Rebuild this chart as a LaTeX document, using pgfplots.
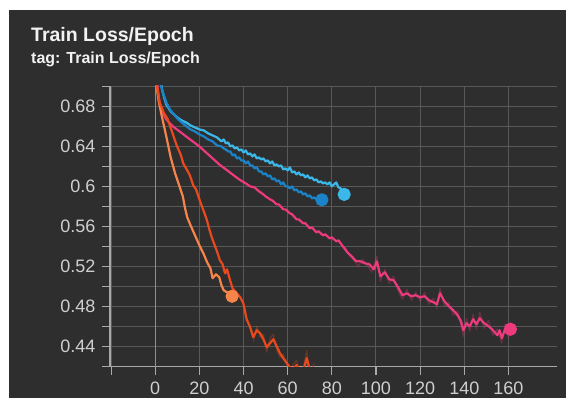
\documentclass[border=0pt]{standalone}
\usepackage{pgfplots}
\pgfplotsset{compat=1.18}
\usepackage{fontspec}
\setmainfont{Liberation Sans}
\definecolor{bgdark}{HTML}{2E2E2E}
\definecolor{gridc}{HTML}{585858}
\definecolor{axisc}{HTML}{A8A8A8}
\definecolor{tickc}{HTML}{CFCFCF}
\definecolor{cCyan}{HTML}{3CB7EA}
\definecolor{cBlue}{HTML}{1B84C9}
\definecolor{cPink}{HTML}{EC3A7C}
\definecolor{cOrange}{HTML}{F7844A}
\definecolor{cRed}{HTML}{E8491D}
\begin{document}
\begin{tikzpicture}[x=1pt,y=1pt]
\useasboundingbox (0,0) rectangle (566,398);
\fill[white] (0,0) rectangle (566,398);
\fill[bgdark] (9,0) rectangle (566,388);
\node[anchor=base west,inner sep=0pt,text=white!95!black,font=\fontsize{19.5}{22}\selectfont\bfseries] at (31,356) {Train Loss/Epoch};
\node[anchor=base west,inner sep=0pt,text=white!95!black,font=\fontsize{16}{18}\selectfont\bfseries] at (31,334) {tag: Train Loss/Epoch};
\begin{axis}[
  at={(110pt,31.3pt)}, anchor=south west,
  scale only axis, width=447pt, height=280.7pt,
  xmin=-20.5, xmax=182, ymin=0.4195, ymax=0.7005,
  axis lines=left, axis line style={-, draw=axisc, line width=1.4pt},
  xtick={-20,0,20,40,60,80,100,120,140,160},
  xticklabels={{},0,20,40,60,80,100,120,140,160},
  ytick={0.42,0.44,0.46,0.48,0.50,0.52,0.54,0.56,0.58,0.60,0.62,0.64,0.66,0.68,0.70},
  yticklabels={{},0.44,{},0.48,{},0.52,{},0.56,{},0.6,{},0.64,{},0.68,{}},
  tick align=outside, major tick length=8pt,
  tick style={draw=axisc, line width=1.2pt},
  grid=major, major grid style={draw=gridc, line width=1pt},
  extra x ticks={0}, extra x tick labels={},
  extra x tick style={grid=major, major grid style={draw=axisc!85!black, line width=1.3pt}},
  ticklabel style={text=tickc, font=\fontsize{18}{20}\selectfont},
  /pgf/number format/assume math mode=true,
  yticklabel style={anchor=east, xshift=-3pt},
  xticklabel style={anchor=north, yshift=-4pt},
  axis background/.style={fill=bgdark},
  every axis plot/.append style={line width=2.2pt, line join=round},
]
% faint raw traces
\addplot[cPink, opacity=0.3, line width=1.2pt, no marks] coordinates {
(86,0.540)(88,0.530)(90,0.526)(92,0.520)(94,0.527)(96,0.521)(98,0.514)(100.4,0.530)(102,0.505)(104,0.517)(106,0.503)(108,0.510)(110,0.495)(112,0.487)(114,0.497)(116,0.486)(118,0.494)(120,0.485)(122,0.494)(124,0.482)(126,0.488)(127.6,0.478)(129,0.498)(131,0.480)(133,0.484)(135,0.471)(137,0.475)(139.6,0.450)(141,0.468)(142.5,0.455)(144,0.472)(145.5,0.457)(147,0.474)(149,0.458)(151,0.466)(153,0.451)(155,0.457)(157,0.443)(158.5,0.462)(160,0.449)(160.9,0.457)
};
\addplot[cRed, opacity=0.3, line width=1.2pt, no marks] coordinates {
(44.4,0.444)(46,0.460)(47.5,0.449)(49,0.452)(50.5,0.434)(52,0.448)(53.5,0.452)(55,0.436)(56.5,0.429)(58,0.432)(60.3,0.417)(62,0.420)(64,0.426)(66,0.412)(67.5,0.423)(68.6,0.436)(70,0.414)(72,0.423)
};
% cyan
\addplot[cCyan, no marks] coordinates {
(0,0.76)(2,0.712)(3,0.698)(4,0.689)(5,0.682)(7,0.675)(10,0.669)(12,0.666)(14,0.664)(16,0.661)(18,0.659)(20,0.657)(22,0.656)(24,0.653)(26,0.651)(28,0.649)(30,0.645)(31,0.647)(32,0.643)(33,0.644)(34,0.640)(35,0.641)(36,0.638)(37,0.639)(38,0.636)(39,0.637)(40,0.634)(41,0.636)(42,0.632)(43,0.633)(44,0.630)(45,0.632)(46,0.628)(47,0.629)(48,0.627)(49,0.628)(50,0.625)(51,0.626)(52,0.623)(53,0.625)(54,0.621)(55,0.622)(56,0.620)(57,0.621)(58,0.617)(59,0.618)(60,0.616)(61,0.619)(62,0.614)(63,0.615)(64,0.612)(65,0.614)(66,0.611)(67,0.612)(68,0.609)(69,0.611)(70,0.608)(71,0.609)(72,0.606)(73,0.607)(74,0.604)(75,0.605)(76,0.603)(77,0.604)(78,0.602)(79,0.604)(80,0.600)(81,0.602)(82,0.604)(83,0.599)(84,0.598)(85.6,0.592)
};
% blue
\addplot[cBlue, no marks] coordinates {
(0,0.76)(2,0.71)(3,0.697)(5,0.684)(7,0.676)(10,0.668)(13,0.662)(16,0.657)(18,0.655)(20,0.652)(22,0.650)(24,0.647)(26,0.645)(28,0.641)(30,0.640)(31,0.638)(32,0.637)(33,0.635)(34,0.635)(35,0.631)(36,0.632)(37,0.628)(38,0.629)(39,0.626)(40,0.626)(41,0.623)(42,0.625)(43,0.621)(44,0.621)(45,0.618)(46,0.619)(47,0.615)(48,0.615)(49,0.612)(50,0.613)(51,0.610)(52,0.611)(53,0.607)(54,0.608)(55,0.605)(56,0.606)(57,0.602)(58,0.604)(59,0.600)(60,0.600)(61,0.598)(62,0.600)(63,0.596)(64,0.597)(65,0.594)(66,0.595)(67,0.592)(68,0.593)(69,0.590)(70,0.591)(71,0.588)(72,0.589)(73,0.587)(74,0.588)(75.5,0.5866)
};
% pink
\addplot[cPink, no marks] coordinates {
(0,0.76)(1,0.70)(2,0.683)(3,0.675)(5,0.667)(8,0.660)(11,0.655)(14,0.650)(17,0.645)(20,0.640)(23,0.634)(26,0.628)(29,0.622)(32,0.617)(35,0.612)(38,0.607)(41,0.603)(43,0.600)(45,0.599)(47,0.595)(49,0.592)(50,0.590)(52,0.587)(53,0.586)(55,0.582)(56,0.582)(58,0.577)(59,0.577)(61,0.573)(62,0.572)(64,0.567)(65,0.567)(67,0.563)(68,0.563)(70,0.558)(71,0.559)(73,0.554)(74,0.555)(76,0.551)(77,0.552)(79,0.548)(80,0.549)(82,0.545)(83,0.546)(85,0.540)(87,0.534)(89,0.530)(91,0.525)(93,0.525)(95,0.523)(97,0.522)(99,0.517)(100.4,0.525)(102,0.510)(104,0.514)(106,0.507)(108,0.506)(110,0.499)(112,0.491)(114,0.493)(116,0.490)(118,0.491)(120,0.489)(122,0.490)(124,0.486)(126,0.484)(127.6,0.482)(129,0.493)(131,0.485)(133,0.480)(135,0.476)(137,0.471)(138.5,0.465)(139.6,0.456)(141,0.463)(142.5,0.460)(144,0.467)(145.5,0.462)(147,0.468)(149,0.463)(151,0.460)(153,0.456)(155,0.451)(156,0.456)(157,0.448)(158.5,0.457)(160,0.453)(160.9,0.457)
};
% light orange
\addplot[cOrange, no marks] coordinates {
(0,0.74)(0.6,0.70)(1.5,0.686)(3,0.670)(5,0.650)(7,0.629)(9,0.613)(11,0.600)(12.5,0.590)(13.5,0.578)(14.5,0.569)(16,0.561)(18,0.551)(20,0.541)(22,0.532)(23.5,0.524)(25,0.518)(26,0.508)(27.5,0.512)(29,0.509)(30,0.501)(31,0.496)(32.5,0.494)(34.8,0.490)
};
% red
\addplot[cRed, no marks] coordinates {
(0,0.74)(0.8,0.70)(2,0.684)(4,0.673)(5.5,0.668)(7.4,0.656)(9.7,0.641)(11.5,0.632)(12.7,0.623)(14.5,0.616)(15.7,0.611)(17.2,0.601)(18.5,0.597)(20.3,0.585)(22,0.575)(23.3,0.567)(24.5,0.557)(25.6,0.549)(27.8,0.536)(29.3,0.526)(30.5,0.522)(31.6,0.513)(32.5,0.517)(33.9,0.506)(35,0.498)(36.9,0.493)(38.5,0.489)(39.9,0.483)(41.4,0.467)(43,0.459)(44.4,0.449)(46,0.456)(47.5,0.453)(49,0.447)(50.5,0.439)(52,0.443)(53.5,0.447)(55,0.440)(56.5,0.433)(58,0.428)(60.3,0.421)(62,0.416)(64,0.421)(66,0.415)(67.5,0.419)(68.6,0.428)(70,0.417)(72,0.419)
};
% end markers
\addplot[only marks, mark=*, mark size=5.5pt, color=cCyan] coordinates {(85.6,0.592)};
\addplot[only marks, mark=*, mark size=5.5pt, color=cBlue] coordinates {(75.5,0.5866)};
\addplot[only marks, mark=*, mark size=5.5pt, color=cPink] coordinates {(160.9,0.457)};
\addplot[only marks, mark=*, mark size=5.5pt, color=cOrange] coordinates {(34.8,0.490)};
\end{axis}
\end{tikzpicture}
\end{document}
